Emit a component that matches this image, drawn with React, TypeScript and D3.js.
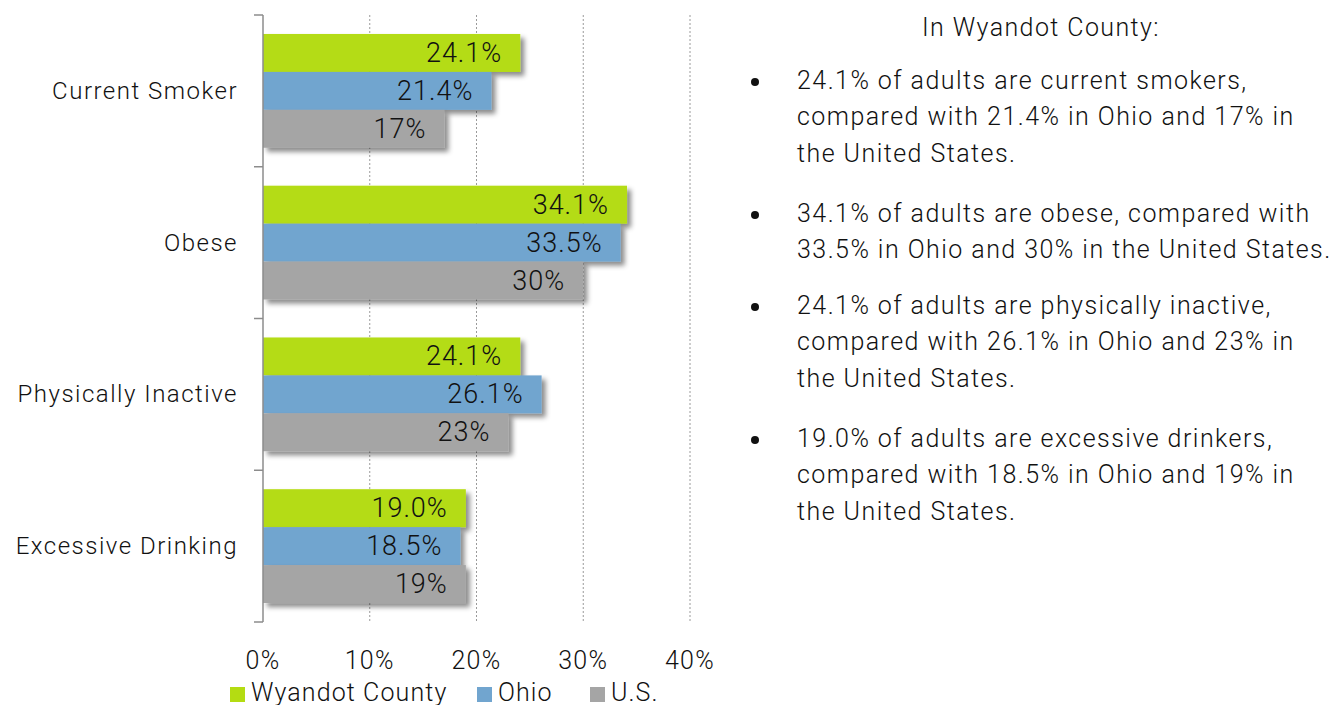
import React, { useEffect } from "react";
import * as d3 from "d3";

const categories = ["Current Smoker", "Obese", "Physically Inactive", "Excessive Drinking"];
const seriesNames = ["Wyandot County", "Ohio", "U.S."];
const wyandot = [24.1, 34.1, 24.1, 19.0];
const ohio = [21.4, 33.5, 26.1, 18.5];
const us = [17, 30, 23, 19];
const valueLabels = [
  ["24.1%", "21.4%", "17%"],
  ["34.1%", "33.5%", "30%"],
  ["24.1%", "26.1%", "23%"],
  ["19.0%", "18.5%", "19%"],
];
const xTicks = [0, 10, 20, 30, 40];
const colors = ["#b4dc12", "#71a5cf", "#a5a5a5"];

const noteTitle = "In Wyandot County:";
const notes = [
  ["24.1% of adults are current smokers,", "compared with 21.4% in Ohio and 17% in", "the United States."],
  ["34.1% of adults are obese, compared with", "33.5% in Ohio and 30% in the United States."],
  ["24.1% of adults are physically inactive,", "compared with 26.1% in Ohio and 23% in", "the United States."],
  ["19.0% of adults are excessive drinkers,", "compared with 18.5% in Ohio and 19% in", "the United States."],
];
const noteTops = [80, 213, 305, 438];

const FONT = "Roboto, 'Liberation Sans', sans-serif";

const App = () => {
  useEffect(() => {
    document.body.style.margin = "0";
    document.body.style.overflow = "hidden";
  }, []);

  const width = 1333;
  const height = 705;
  const series = [wyandot, ohio, us];

  const x = d3.scaleLinear().domain([0, 40]).range([263, 690]);
  const y0 = d3.scaleBand<string>().domain(categories).range([15, 622]).padding(0);
  const y1 = d3
    .scaleBand<string>()
    .domain(seriesNames)
    .range([0, y0.bandwidth()])
    .paddingInner(0)
    .paddingOuter(0.5);

  const boundaries = categories.map((c) => y0(c) as number).concat([622]);
  const lineH = 36.8;

  return (
    <svg width={width} height={height} style={{ display: "block", background: "#fff" }} fontFamily={FONT}>
      <defs>
        <filter id="shadow" x="-10%" y="-20%" width="130%" height="160%">
          <feDropShadow dx="4" dy="4" stdDeviation="2.5" floodColor="#000" floodOpacity="0.45" />
        </filter>
      </defs>

      {/* gridlines */}
      {xTicks.slice(1).map((t) => (
        <line
          key={t}
          x1={x(t)}
          x2={x(t)}
          y1={15}
          y2={622}
          stroke="#9a9a9a"
          strokeWidth={1}
          strokeDasharray="2,2"
        />
      ))}

      {/* bars */}
      {categories.map((c, ci) => (
        <g key={c} transform={`translate(0,${y0(c)})`}>
          {seriesNames.map((s, si) => (
            <rect
              key={s}
              x={x(0)}
              y={y1(s)}
              width={x(series[si][ci]) - x(0)}
              height={y1.bandwidth()}
              fill={colors[si]}
              filter="url(#shadow)"
            />
          ))}
          {seriesNames.map((s, si) => (
            <text
              key={s}
              x={x(series[si][ci]) - 18}
              y={(y1(s) as number) + y1.bandwidth() / 2}
              textAnchor="end"
              dominantBaseline="central"
              fontSize={27}
              fontWeight={300}
              letterSpacing={1}
              fill="#111"
            >
              {valueLabels[ci][si]}
            </text>
          ))}
        </g>
      ))}

      {/* y axis */}
      <line x1={x(0)} x2={x(0)} y1={15} y2={622} stroke="#8c8c8c" strokeWidth={1.5} />
      {boundaries.map((b, i) => (
        <line key={i} x1={x(0) - 9} x2={x(0)} y1={b} y2={b} stroke="#8c8c8c" strokeWidth={1.5} />
      ))}
      {categories.map((c) => (
        <text
          key={c}
          x={238}
          y={(y0(c) as number) + y0.bandwidth() / 2}
          textAnchor="end"
          dominantBaseline="central"
          fontSize={24}
          fontWeight={300}
          letterSpacing={1.5}
          fill="#111"
        >
          {c}
        </text>
      ))}

      {/* x tick labels */}
      {xTicks.map((t) => (
        <text
          key={t}
          x={x(t)}
          y={660}
          textAnchor="middle"
          dominantBaseline="central"
          fontSize={25}
          fontWeight={300}
          letterSpacing={1.3}
          fill="#111"
        >
          {`${t}%`}
        </text>
      ))}

      {/* legend */}
      {seriesNames.map((s, i) => {
        const lx = [230, 477, 590][i];
        return (
          <g key={s}>
            <rect x={lx} y={687} width={15} height={15} fill={colors[i]} />
            <text
              x={lx + 21}
              y={692}
              dominantBaseline="central"
              fontSize={25}
              fontWeight={300}
              letterSpacing={1.1}
              fill="#111"
            >
              {s}
            </text>
          </g>
        );
      })}

      {/* notes */}
      <text
        x={1041}
        y={27}
        textAnchor="middle"
        dominantBaseline="central"
        fontSize={25}
        fontWeight={300}
        letterSpacing={1.4}
        fill="#111"
      >
        {noteTitle}
      </text>
      {notes.map((lines, i) => (
        <g key={i}>
          <circle cx={755} cy={noteTops[i] + 2} r={4} fill="#111" />
          {lines.map((l, li) => (
            <text
              key={li}
              x={797}
              y={noteTops[i] + li * lineH}
              dominantBaseline="central"
              fontSize={25}
              fontWeight={300}
              letterSpacing={1.45}
              fill="#111"
            >
              {l}
            </text>
          ))}
        </g>
      ))}
    </svg>
  );
};

export default App;
